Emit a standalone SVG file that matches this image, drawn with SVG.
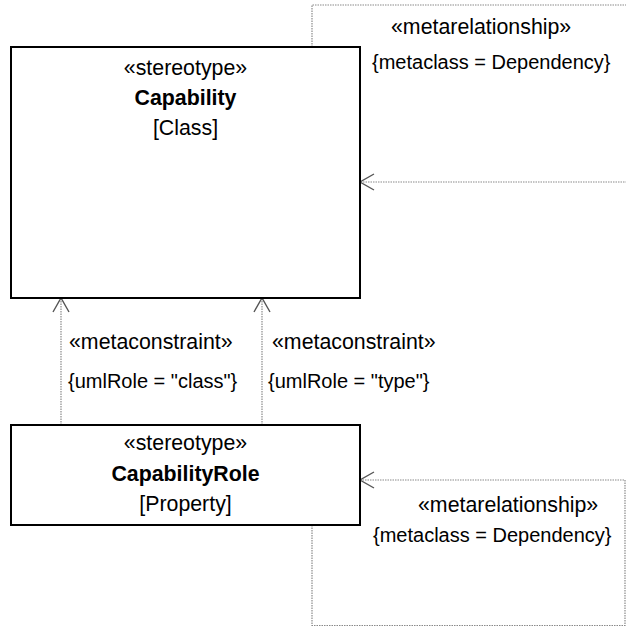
<svg xmlns="http://www.w3.org/2000/svg" width="626" height="628" viewBox="0 0 626 628">
<style>
.box{fill:#fff;stroke:#000;stroke-width:2}
.conn{fill:none;stroke:#8a8a8a;stroke-width:1.2;stroke-dasharray:1.5 1}
.st{font-family:"Liberation Sans",Arial,sans-serif;font-size:21.33px;fill:#000}
.nm{font-family:"Liberation Sans",Arial,sans-serif;font-size:21.33px;font-weight:bold;fill:#000}
.cs{font-family:"Liberation Sans",Arial,sans-serif;font-size:20px;fill:#000}
</style>
<defs>
<marker id="open" viewBox="-16 -10 18 20" markerWidth="18" markerHeight="20" refX="0" refY="0" orient="auto" markerUnits="userSpaceOnUse">
<path d="M-14,-8 L0,0 L-14,8" fill="none" stroke="#555" stroke-width="1.4"/>
</marker>
</defs>
<rect width="626" height="628" fill="#fff"/>
<g id="connectors">
<path class="conn" d="M312,47 V5 H640 V182 H360" marker-end="url(#open)"/>
<path class="conn" d="M312,525 V625.5 H625 V480 H360" marker-end="url(#open)"/>
<path class="conn" d="M61,425 V298" marker-end="url(#open)"/>
<path class="conn" d="M262,425 V298" marker-end="url(#open)"/>
<text class="st" x="391" y="34">«metarelationship»</text>
<text class="cs" x="372" y="69">{metaclass = Dependency}</text>
<text class="st" x="418" y="512">«metarelationship»</text>
<text class="cs" x="373" y="542">{metaclass = Dependency}</text>
<text class="st" x="69" y="349">«metaconstraint»</text>
<text class="cs" x="68" y="388">{umlRole = "class"}</text>
<text class="st" x="272" y="349">«metaconstraint»</text>
<text class="cs" x="268" y="388">{umlRole = "type"}</text>
</g>
<g id="capability">
<rect class="box" x="11" y="47" width="349" height="251"/>
<text class="st" x="185.5" y="75" text-anchor="middle">«stereotype»</text>
<text class="nm" x="185.5" y="105" text-anchor="middle">Capability</text>
<text class="st" x="185.5" y="135" text-anchor="middle">[Class]</text>
</g>
<g id="capabilityRole">
<rect class="box" x="11" y="425" width="349" height="100"/>
<text class="st" x="185.5" y="450" text-anchor="middle">«stereotype»</text>
<text class="nm" x="185.5" y="481" text-anchor="middle">CapabilityRole</text>
<text class="st" x="185.5" y="511" text-anchor="middle">[Property]</text>
</g>
</svg>
